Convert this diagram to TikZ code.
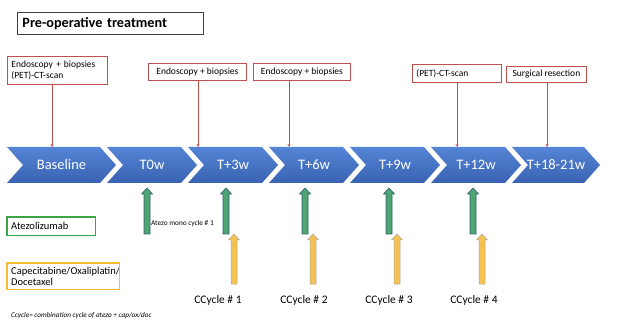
\documentclass[tikz,border=0pt]{standalone}
\usepackage{fontspec}
\setmainfont{Carlito}
\usetikzlibrary{arrows.meta}
\definecolor{redline}{HTML}{C0504D}
\definecolor{chevtop}{HTML}{5585D6}
\definecolor{chevbot}{HTML}{3A62B2}
\definecolor{greenfill}{HTML}{4EA56F}
\definecolor{greenline}{HTML}{2F5E78}
\definecolor{yellowfill}{HTML}{F4C152}
\definecolor{yellowline}{HTML}{A8A8A8}
\definecolor{lgreen}{RGB}{60,165,70}
\definecolor{lyellow}{RGB}{245,190,50}
\tikzset{
  redbox/.style={draw=redline, line width=0.8pt, fill=white, inner xsep=4pt, inner ysep=2pt, font=\fontsize{9.5}{11}\selectfont, anchor=north west, align=left},
  redarrow/.style={draw=redline, line width=0.7pt, -{Stealth[length=3pt,width=3pt]}},
  chevron/.style={top color=chevtop, bottom color=chevbot, draw=none},
  chevlabel/.style={text=white, font=\fontsize{14.5}{16}\selectfont, inner sep=0pt},
  greenarrow/.style={fill=greenfill, draw=greenline, line width=0.6pt},
  yellowarrow/.style={fill=yellowfill, draw=yellowline, line width=0.5pt},
  cyclelabel/.style={font=\fontsize{11.5}{13}\selectfont, inner sep=0pt},
  legendbox/.style={anchor=north west, inner xsep=4pt, align=left, font=\fontsize{10.5}{11.5}\selectfont},
  legendframe/.style={line width=1.3pt},
}
% chevron: left x, rectangle width, label, name
\newcommand{\mychev}[4]{%
  \path[chevron] (#1,147) -- ++(#2,0) -- ++(16,18) -- ++(-16,18) -- ++(-#2,0) -- ++(16,-18) -- cycle;
  \node[chevlabel] (#4) at ({#1+(#2+16)/2},165) {#3};
}
% block up arrow: x center, top y, bottom y, style
\newcommand{\myblockup}[4]{%
  \path[#4] ({#1-3},#3) -- ({#1-3},{#2+6}) -- ({#1-5.5},{#2+6}) -- (#1,#2) -- ({#1+5.5},{#2+6}) -- ({#1+3},{#2+6}) -- ({#1+3},#3) -- cycle;
}
\begin{document}
\begin{tikzpicture}[x=1pt,y=-1pt]
\useasboundingbox (0,0) rectangle (618,320);
% title
\node[draw=black!75, line width=0.9pt, anchor=north west, minimum width=186pt, minimum height=22pt, inner xsep=5pt, text width=176pt, align=left, font=\bfseries\fontsize{14.2}{16}\selectfont] (title) at (17,12) {Pre-operative treatment};
% top boxes
\node[redbox, text width=92pt, minimum height=28pt] (b1) at (7,56) {Endoscopy + biopsies\\(PET)-CT-scan};
\node[redbox, minimum width=98pt, minimum height=17pt, align=center] (b2) at (148,63) {Endoscopy + biopsies};
\node[redbox, minimum width=97pt, minimum height=17pt, align=center] (b3) at (253,63) {Endoscopy + biopsies};
\node[redbox, minimum width=89pt, minimum height=18pt, text width=81pt] (b4) at (412,64) {(PET)-CT-scan};
\node[redbox, minimum width=80pt, minimum height=16pt, align=center] (b5) at (506,66) {Surgical resection};
% chevrons
\mychev{7}{93}{Baseline}{c0}
\mychev{107}{74}{T0w}{c1}
\mychev{188}{74}{T+3w}{c2}
\mychev{269}{74}{T+6w}{c3}
\mychev{350}{74}{T+9w}{c4}
\mychev{431}{74}{T+12w}{c5}
\mychev{512}{72}{T+18-21w}{c6}
% arrow targets
\coordinate (a1) at (52,147);
\coordinate (a2) at (198,147);
\coordinate (a3) at (289,147);
\coordinate (a4) at (457,147);
\coordinate (a5) at (547,147);
\draw[redarrow] (b1.south -| a1) -- (a1);
\draw[redarrow] (b2.south -| a2) -- (a2);
\draw[redarrow] (b3.south -| a3) -- (a3);
\draw[redarrow] (b4.south -| a4) -- (a4);
\draw[redarrow] (b5.south -| a5) -- (a5);
% green arrows
\myblockup{147}{188}{234}{greenarrow}
\myblockup{226}{188}{234}{greenarrow}
\myblockup{305}{188}{234}{greenarrow}
\myblockup{389}{188}{234}{greenarrow}
\myblockup{473}{188}{234}{greenarrow}
\node[anchor=west, inner sep=0pt, font=\fontsize{7.3}{8}\selectfont] (mono) at (151,224) {Atezo mono cycle \# 1};
% yellow arrows
\myblockup{234}{234}{284}{yellowarrow}
\myblockup{313}{234}{284}{yellowarrow}
\myblockup{397}{234}{284}{yellowarrow}
\myblockup{482}{234}{284}{yellowarrow}
% cycle labels
\node[cyclelabel] (cc1) at (218,300) {CCycle \# 1};
\node[cyclelabel] (cc2) at (304,300) {CCycle \# 2};
\node[cyclelabel] (cc3) at (389,300) {CCycle \# 3};
\node[cyclelabel] (cc4) at (474,300) {CCycle \# 4};
% legend boxes
\node[legendbox, minimum width=88pt, minimum height=18pt, text width=80pt] (lg) at (7,217) {Atezolizumab};
\draw[legendframe, draw=lgreen] (lg.north west) rectangle (lg.south east);
\node[legendbox, minimum width=112pt, minimum height=26pt, text width=104pt] (ly) at (7,263) {Capecitabine/Oxaliplatin/\\Docetaxel};
\draw[legendframe, draw=lyellow] (ly.north west) rectangle (ly.south east);
% footnote
\node[anchor=west, inner sep=0pt, font=\itshape\fontsize{7.2}{8}\selectfont] (foot) at (11,316) {Ccycle= combination cycle of atezo + cap/ox/doc};
\end{tikzpicture}
\end{document}
